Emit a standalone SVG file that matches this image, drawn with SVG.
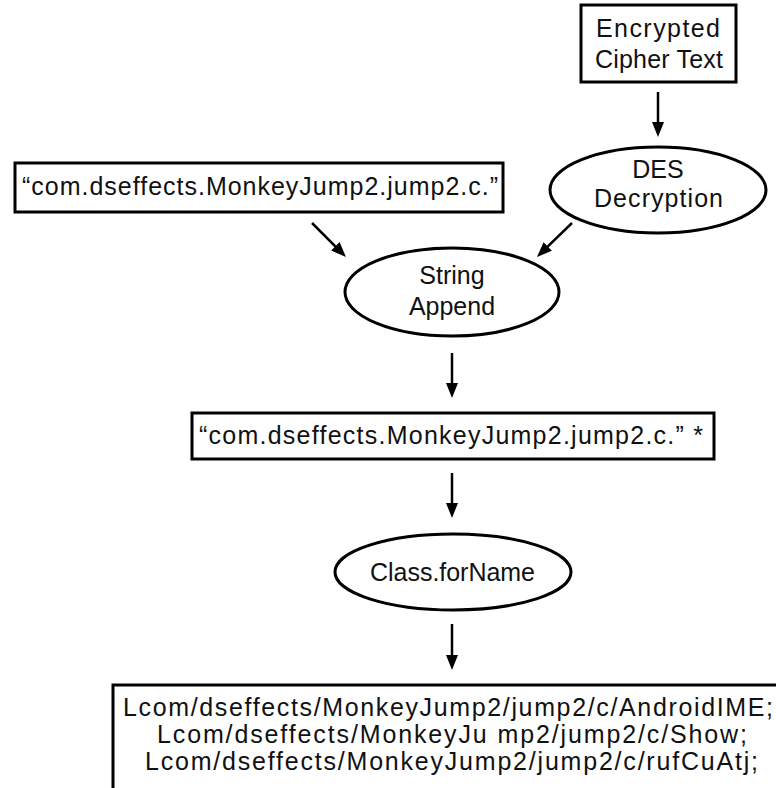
<svg xmlns="http://www.w3.org/2000/svg" width="776" height="788" viewBox="0 0 776 788">
<style>
.box{fill:#fff;stroke:#000;stroke-width:3}
.ell{fill:#fff;stroke:#000;stroke-width:3}
.t{font-family:"Liberation Sans",Arial,sans-serif;font-size:25px;fill:#111}
.c{text-anchor:middle}
.arr{stroke:#000;stroke-width:2.5;fill:none;marker-end:url(#ah)}
</style>
<defs>
<marker id="ah" viewBox="0 0 15 12" refX="7" refY="6" markerWidth="15" markerHeight="12" markerUnits="userSpaceOnUse" orient="auto">
<path d="M0,0 L15,6 L0,12 z" fill="#000"/>
</marker>
</defs>
<rect width="776" height="788" fill="#fff"/>
<g id="connectors">
<line class="arr" x1="658" y1="92" x2="658" y2="129"/>
<line class="arr" x1="312" y1="223" x2="340.3" y2="251.3"/>
<line class="arr" x1="572" y1="223" x2="542.7" y2="251.4"/>
<line class="arr" x1="452" y1="353" x2="452" y2="390"/>
<line class="arr" x1="452" y1="473" x2="452" y2="510"/>
<line class="arr" x1="452" y1="624" x2="452" y2="662"/>
</g>
<g id="encrypted">
<rect class="box" x="581" y="5" width="155" height="77"/>
<text class="t" x="596" y="37" textLength="124" lengthAdjust="spacing">Encrypted</text>
<text class="t" x="595" y="68" textLength="128" lengthAdjust="spacing">Cipher Text</text>
</g>
<g id="des">
<ellipse class="ell" cx="658" cy="190" rx="108" ry="43"/>
<text class="t c" x="658" y="178">DES</text>
<text class="t" x="594" y="207" textLength="129" lengthAdjust="spacing">Decryption</text>
</g>
<g id="prefix">
<rect class="box" x="15" y="163" width="488" height="49"/>
<text class="t" x="22" y="195" textLength="476" lengthAdjust="spacing">“com.dseffects.MonkeyJump2.jump2.c.”</text>
</g>
<g id="append">
<ellipse class="ell" cx="452" cy="292" rx="107" ry="44"/>
<text class="t c" x="452" y="284">String</text>
<text class="t c" x="452" y="315">Append</text>
</g>
<g id="combined">
<rect class="box" x="192" y="413" width="522" height="46"/>
<text class="t" x="199" y="444" textLength="504" lengthAdjust="spacing">“com.dseffects.MonkeyJump2.jump2.c.” *</text>
</g>
<g id="forname">
<ellipse class="ell" cx="453" cy="572" rx="118" ry="38"/>
<text class="t" x="370" y="581" textLength="165" lengthAdjust="spacing">Class.forName</text>
</g>
<g id="classes">
<rect class="box" x="113" y="685" width="700" height="130"/>
<text class="t" x="123" y="716" textLength="650" lengthAdjust="spacing">Lcom/dseffects/MonkeyJump2/jump2/c/AndroidIME;</text>
<text class="t" x="157" y="743" textLength="590" lengthAdjust="spacing">Lcom/dseffects/MonkeyJu mp2/jump2/c/Show;</text>
<text class="t" x="145" y="770" textLength="613" lengthAdjust="spacing">Lcom/dseffects/MonkeyJump2/jump2/c/rufCuAtj;</text>
</g>
</svg>
